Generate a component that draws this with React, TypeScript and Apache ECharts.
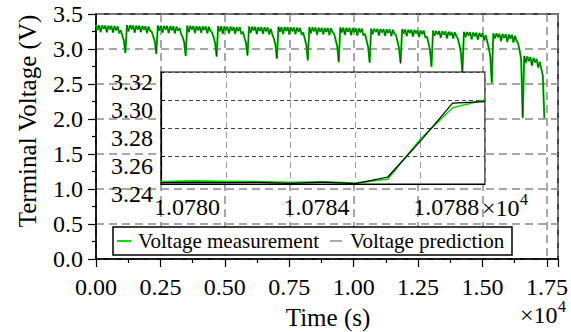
import React, { useEffect, useRef } from "react";
import * as echarts from "echarts";

// Terminal voltage sampled every 60 s over the pulse-discharge test (V),
// one row per discharge cycle.
const SAMPLE_PERIOD_S = 60;

const measuredVoltage: number[] = [
  3.345, 3.27, 3.338, 3.24, 3.336, 3.29, 3.335, 3.235, 3.332, 3.28, 3.331, 3.23, 3.328, 3.27, 3.322, 3.22, 3.27, 3.19, 3.12, 2.94,
  3.342, 3.25, 3.339, 3.285, 3.336, 3.23, 3.334, 3.28, 3.333, 3.24, 3.33, 3.275, 3.327, 3.225, 3.32, 3.26, 3.25, 3.18, 3.11, 2.93,
  3.335, 3.26, 3.332, 3.23, 3.33, 3.28, 3.328, 3.225, 3.326, 3.27, 3.324, 3.22, 3.32, 3.265, 3.3, 3.22, 3.17, 3.1, 2.9,
  3.334, 3.24, 3.331, 3.28, 3.329, 3.225, 3.327, 3.27, 3.325, 3.23, 3.323, 3.275, 3.321, 3.22, 3.318, 3.26, 3.24, 3.17, 3.09, 2.89,
  3.328, 3.25, 3.325, 3.215, 3.322, 3.27, 3.32, 3.22, 3.318, 3.265, 3.316, 3.215, 3.314, 3.26, 3.31, 3.21, 3.25, 3.16, 3.09, 2.91,
  3.322, 3.23, 3.318, 3.265, 3.316, 3.21, 3.314, 3.26, 3.312, 3.215, 3.31, 3.255, 3.308, 3.205, 3.29, 3.21, 3.15, 3.07, 2.86,
  3.318, 3.245, 3.315, 3.21, 3.313, 3.26, 3.311, 3.205, 3.309, 3.255, 3.307, 3.21, 3.305, 3.25, 3.302, 3.2, 3.24, 3.15, 3.06, 2.85,
  3.312, 3.22, 3.309, 3.255, 3.307, 3.2, 3.305, 3.25, 3.303, 3.205, 3.301, 3.245, 3.299, 3.195, 3.296, 3.24, 3.22, 3.13, 3.04, 2.81,
  3.308, 3.235, 3.305, 3.2, 3.303, 3.25, 3.3, 3.195, 3.298, 3.245, 3.296, 3.19, 3.294, 3.24, 3.29, 3.19, 3.22, 3.12, 3.03, 2.81,
  3.292, 3.21, 3.289, 3.245, 3.287, 3.19, 3.285, 3.24, 3.283, 3.185, 3.281, 3.235, 3.279, 3.18, 3.275, 3.225, 3.2, 3.11, 3.01, 2.8,
  3.282, 3.22, 3.279, 3.18, 3.277, 3.23, 3.275, 3.175, 3.273, 3.225, 3.27, 3.17, 3.267, 3.215, 3.262, 3.16, 3.18, 3.09, 2.99, 2.74,
  3.262, 3.19, 3.259, 3.21, 3.256, 3.155, 3.254, 3.205, 3.251, 3.15, 3.248, 3.2, 3.245, 3.145, 3.24, 3.19, 3.15, 3.06, 2.95, 2.67,
  3.245, 3.17, 3.242, 3.195, 3.239, 3.135, 3.236, 3.185, 3.233, 3.13, 3.23, 3.175, 3.225, 3.12, 3.2, 3.11, 3.02, 2.9, 2.51,
  3.225, 3.15, 3.222, 3.17, 3.218, 3.11, 3.215, 3.16, 3.212, 3.1, 3.208, 3.15, 3.203, 3.09, 3.19, 3.12, 3.08, 2.98, 2.85, 2.01,
  2.905, 2.8, 2.895, 2.83, 2.885, 2.76, 2.875, 2.81, 2.86, 2.73, 2.82, 2.72, 2.62, 2.01,
];

const predictedVoltage: number[] = [
  3.342, 3.275, 3.336, 3.25, 3.335, 3.285, 3.333, 3.245, 3.33, 3.275, 3.329, 3.24, 3.326, 3.265, 3.32, 3.23, 3.265, 3.195, 3.125, 2.95,
  3.34, 3.255, 3.337, 3.28, 3.334, 3.24, 3.332, 3.275, 3.331, 3.245, 3.328, 3.27, 3.325, 3.235, 3.318, 3.255, 3.245, 3.185, 3.115, 2.935,
  3.333, 3.265, 3.33, 3.24, 3.328, 3.275, 3.326, 3.235, 3.324, 3.265, 3.322, 3.23, 3.318, 3.26, 3.295, 3.225, 3.175, 3.105, 2.905,
  3.332, 3.245, 3.329, 3.275, 3.327, 3.235, 3.325, 3.265, 3.323, 3.24, 3.321, 3.27, 3.319, 3.23, 3.316, 3.255, 3.235, 3.175, 3.095, 2.895,
  3.326, 3.255, 3.323, 3.225, 3.32, 3.265, 3.318, 3.23, 3.316, 3.26, 3.314, 3.225, 3.312, 3.255, 3.308, 3.22, 3.245, 3.165, 3.095, 2.905,
  3.32, 3.235, 3.316, 3.26, 3.314, 3.22, 3.312, 3.255, 3.31, 3.225, 3.308, 3.25, 3.306, 3.215, 3.285, 3.215, 3.155, 3.075, 2.87,
  3.316, 3.25, 3.313, 3.22, 3.311, 3.255, 3.309, 3.215, 3.307, 3.25, 3.305, 3.22, 3.303, 3.245, 3.3, 3.21, 3.235, 3.155, 3.065, 2.83,
  3.31, 3.23, 3.307, 3.25, 3.305, 3.21, 3.303, 3.245, 3.301, 3.215, 3.299, 3.24, 3.297, 3.205, 3.294, 3.235, 3.215, 3.135, 3.045, 2.82,
  3.306, 3.24, 3.303, 3.21, 3.301, 3.245, 3.298, 3.205, 3.296, 3.24, 3.294, 3.2, 3.292, 3.235, 3.288, 3.2, 3.215, 3.125, 3.035, 2.8,
  3.29, 3.215, 3.287, 3.24, 3.285, 3.2, 3.283, 3.235, 3.281, 3.195, 3.279, 3.23, 3.277, 3.19, 3.273, 3.22, 3.195, 3.115, 3.015, 2.79,
  3.28, 3.225, 3.277, 3.19, 3.275, 3.225, 3.273, 3.185, 3.271, 3.22, 3.268, 3.18, 3.265, 3.21, 3.26, 3.17, 3.175, 3.095, 2.995, 2.76,
  3.26, 3.195, 3.257, 3.205, 3.254, 3.165, 3.252, 3.2, 3.249, 3.16, 3.246, 3.195, 3.243, 3.155, 3.238, 3.185, 3.145, 3.065, 2.955, 2.66,
  3.243, 3.175, 3.24, 3.19, 3.237, 3.145, 3.234, 3.18, 3.231, 3.14, 3.228, 3.17, 3.223, 3.13, 3.195, 3.115, 3.025, 2.905, 2.53,
  3.223, 3.155, 3.22, 3.165, 3.216, 3.12, 3.213, 3.155, 3.21, 3.11, 3.206, 3.145, 3.201, 3.1, 3.185, 3.125, 3.085, 2.985, 2.855, 2.03,
  2.9, 2.81, 2.89, 2.825, 2.88, 2.77, 2.87, 2.805, 2.855, 2.745, 2.815, 2.73, 2.63, 2.02,
];

// Close-up window around t = 1.0785e4 s
const zoomTime = [10780, 10781, 10782, 10783, 10784, 10785, 10786, 10787, 10788, 10789, 10790];
const zoomMeasured = [3.2418, 3.2422, 3.242, 3.2418, 3.2412, 3.2416, 3.2406, 3.2435, 3.272, 3.2945, 3.3002];
const zoomPredicted = [3.241, 3.2412, 3.241, 3.2412, 3.2405, 3.2413, 3.2403, 3.245, 3.2705, 3.2978, 3.2988];

// Tick labels
const timeTicks = [0, 2500, 5000, 7500, 10000, 12500, 15000, 17500];
const voltageTicks = [0, 0.5, 1, 1.5, 2, 2.5, 3, 3.5];
const zoomTimeTicks = [10780, 10784, 10788];
const zoomVoltageTicks = [3.24, 3.26, 3.28, 3.3, 3.32];

const seriesNames = ["Voltage measurement", "Voltage prediction"];

const FAMILY = "Liberation Serif";
const GREEN = "#00d000";

const toPairs = (values: number[]) => values.map((v, i) => [i * SAMPLE_PERIOD_S, v]);
const zip = (xs: number[], ys: number[]) => xs.map((x, i) => [x, ys[i]]);

const label = (text: string, x: number, y: number, size: number, align = "left", z = 20): any => ({
  type: "text", x, y, z, silent: true,
  style: {
    text, font: `${size}px ${FAMILY}`, fill: "#000",
    textAlign: align, align, textVerticalAlign: "middle", verticalAlign: "middle",
  },
});

export default function App() {
  const ref = useRef<HTMLDivElement>(null);

  useEffect(() => {
    if (!ref.current) return;
    const chart = echarts.init(ref.current, undefined, { renderer: "svg" });

    chart.setOption({
      animation: false,
      backgroundColor: "#fff",
      grid: [
        {
          left: 96, top: 14, width: 462, height: 245,
          show: true, borderColor: "#000", borderWidth: 1.5, backgroundColor: "transparent",
        },
        {
          left: 161, top: 72, width: 324, height: 112,
          show: true, borderColor: "#000", borderWidth: 1.2, backgroundColor: "#fff", z: 5,
        },
      ],
      xAxis: [
        {
          type: "value", gridIndex: 0, min: 0, max: 17930, interval: 2500,
          axisLine: { lineStyle: { color: "#000", width: 1.5 } },
          axisTick: { length: 8, lineStyle: { color: "#000", width: 1.2 } },
          minorTick: { show: true, splitNumber: 2, length: 4, lineStyle: { color: "#000", width: 1.2 } },
          splitLine: { show: true, lineStyle: { color: "#8a8a8a", type: [8, 5], width: 1.5 } },
          axisLabel: { show: false },
        },
        {
          type: "value", gridIndex: 1, min: 10780, max: 10790, interval: 2, z: 6,
          axisLine: { lineStyle: { color: "#000", width: 1.2 } },
          axisTick: { show: false },
          splitLine: { show: true, lineStyle: { color: "#9a9a9a", type: [6, 4], width: 1 } },
          axisLabel: { show: false },
        },
      ],
      yAxis: [
        {
          type: "value", gridIndex: 0, min: 0, max: 3.5, interval: 0.5,
          axisLine: { show: true, lineStyle: { color: "#000", width: 1.5 } },
          axisTick: { show: true, length: 8, lineStyle: { color: "#000", width: 1.2 } },
          minorTick: { show: true, splitNumber: 2, length: 4, lineStyle: { color: "#000", width: 1.2 } },
          splitLine: { show: true, lineStyle: { color: "#8a8a8a", type: [8, 5], width: 1.5 } },
          axisLabel: { show: false },
        },
        {
          type: "value", gridIndex: 1, min: 3.24, max: 3.32, interval: 0.02, z: 6,
          axisLine: { show: true, lineStyle: { color: "#000", width: 1.2 } },
          axisTick: { show: true, inside: true, length: 3, lineStyle: { color: "#000" } },
          splitLine: { show: true, lineStyle: { color: "#444", type: [4, 3], width: 1 } },
          axisLabel: { show: false },
        },
      ],
      series: [
        {
          name: seriesNames[0], type: "line", xAxisIndex: 0, yAxisIndex: 0,
          data: toPairs(measuredVoltage), showSymbol: false, z: 2,
          lineStyle: { color: GREEN, width: 2 },
        },
        {
          name: seriesNames[1], type: "line", xAxisIndex: 0, yAxisIndex: 0,
          data: toPairs(predictedVoltage), showSymbol: false, z: 3,
          lineStyle: { color: "#000", width: 0.5 },
        },
        {
          name: seriesNames[0], type: "line", xAxisIndex: 1, yAxisIndex: 1,
          data: zip(zoomTime, zoomMeasured), showSymbol: false, z: 7,
          lineStyle: { color: "#00e000", width: 1.6 },
        },
        {
          name: seriesNames[1], type: "line", xAxisIndex: 1, yAxisIndex: 1,
          data: zip(zoomTime, zoomPredicted), showSymbol: false, z: 8,
          lineStyle: { color: "#000", width: 1.2 },
        },
      ],
    });

    // Tick labels placed through the axes' own scales
    const px = (axis: object, v: number) => chart.convertToPixel(axis as any, v) as unknown as number;
    const texts: any[] = [];
    timeTicks.forEach((t) => texts.push(label((t / 1e4).toFixed(2), px({ xAxisIndex: 0 }, t), 287, 24, "center")));
    voltageTicks.forEach((v) => texts.push(label(v.toFixed(1), 83, px({ yAxisIndex: 0 }, v), 24, "right")));
    zoomTimeTicks.forEach((t) => texts.push(label((t / 1e4).toFixed(4), px({ xAxisIndex: 1 }, t) - 7, 207, 24, "left")));
    zoomVoltageTicks.forEach((v) => texts.push(label(v.toFixed(2), 153, px({ yAxisIndex: 1 }, v) + 10, 24, "right")));

    chart.setOption({
      graphic: [
        ...texts,
        label("×10", 482, 208, 24),
        label("4", 520, 199, 16),
        label("×10", 520, 315, 24),
        label("4", 558, 306, 16),
        label("Time (s)", 328, 317, 25, "center"),
        { ...label("Terminal Voltage (V)", 27, 121, 25, "center"), rotation: Math.PI / 2 },
        // legend box
        {
          type: "group", z: 30,
          children: [
            { type: "rect", z: 30, shape: { x: 113, y: 227, width: 399, height: 28 }, style: { fill: "#fff", stroke: "#000", lineWidth: 1.5 } },
            { type: "line", z: 31, shape: { x1: 117, y1: 241, x2: 131, y2: 241 }, style: { stroke: "#00e000", lineWidth: 2 } },
            label(seriesNames[0], 138, 241, 21, "left", 31),
            { type: "line", z: 31, shape: { x1: 330, y1: 241, x2: 342, y2: 241 }, style: { stroke: "#555", lineWidth: 1 } },
            label(seriesNames[1], 350, 241, 21, "left", 31),
          ],
        },
      ],
    });

    return () => chart.dispose();
  }, []);

  return <div ref={ref} style={{ width: 571, height: 332, position: "absolute", left: 0, top: 0 }} />;
}
